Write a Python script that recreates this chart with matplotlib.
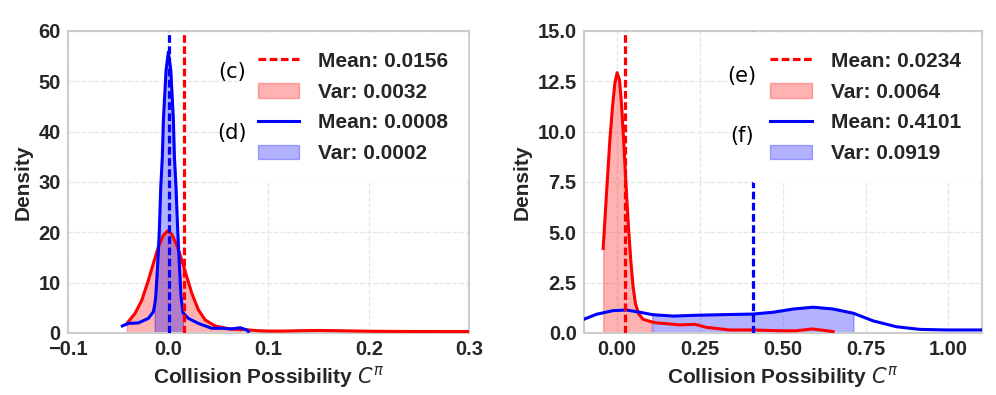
import numpy as np
import matplotlib.pyplot as plt

# --- panel (c)/(d): curves ---
cd_red_x = [-0.041, -0.0329, -0.0262, -0.0196, -0.0147, -0.0097, -0.0047, -0.0003,
            0.0037, 0.0086, 0.0136, 0.0186, 0.0236, 0.0302, 0.0369, 0.0468, 0.0601,
            0.0722, 0.080, 0.09, 0.1, 0.115, 0.13, 0.15, 0.17, 0.19, 0.21, 0.24,
            0.27, 0.3]
cd_red_y = [1.9, 3.9, 6.5, 10.5, 13.8, 17.1, 19.4, 20.3,
            19.6, 17.5, 14.5, 11.2, 7.9, 4.6, 2.6, 1.4, 0.86,
            0.68, 0.6, 0.45, 0.38, 0.38, 0.45, 0.5, 0.45, 0.38, 0.33, 0.3,
            0.28, 0.28]
cd_blue_x = [-0.0456, -0.0396, -0.0296, -0.0196, -0.0147, -0.0133, -0.0123, -0.0103,
             -0.0087, -0.0073, -0.0057, -0.0047, -0.002, 0.0003, 0.0027, 0.0053,
             0.0063, 0.0079, 0.0096, 0.0112, 0.0129, 0.0149, 0.0202, 0.0302, 0.0435,
             0.0535, 0.0635, 0.0717, 0.0784, 0.080]
cd_blue_y = [1.39, 1.9, 2.0, 2.9, 4.2, 5.6, 7.2, 13.8,
             20.4, 29.0, 35.0, 42.3, 52.2, 55.8, 52.2, 42.3,
             35.0, 29.0, 20.4, 13.8, 7.2, 4.0, 2.9, 1.9, 0.93,
             0.93, 0.8, 1.05, 0.6, 0.3]
cd_mean = [0.0156, 0.0008]
cd_var = [0.0032, 0.0002]

# --- panel (e)/(f) ---
ef_red_x = [-0.0412, -0.036, -0.028, -0.021, -0.013, -0.006, 0.001, 0.008, 0.014,
            0.021, 0.028, 0.035, 0.042, 0.049, 0.056, 0.066, 0.079, 0.0995, 0.1034,
            0.12, 0.15, 0.19, 0.235, 0.27, 0.34, 0.41, 0.49, 0.54, 0.59, 0.652]
ef_red_y = [4.2, 5.6, 7.76, 9.58, 11.23, 12.39, 12.92, 12.56, 11.4,
            9.41, 7.26, 5.28, 3.62, 2.3, 1.47, 0.95, 0.68, 0.58, 0.56,
            0.5, 0.46, 0.4, 0.43, 0.28, 0.15, 0.15, 0.11, 0.11, 0.2, 0.07]
ef_blue_x = [-0.0995, -0.061, -0.011, 0.029, 0.069, 0.107, 0.17, 0.24, 0.32, 0.41,
             0.471, 0.532, 0.592, 0.652, 0.7133, 0.773, 0.843, 0.913, 0.994, 1.1]
ef_blue_y = [0.68, 0.93, 1.11, 1.14, 1.03, 0.91, 0.84, 0.88, 0.91, 0.94,
             1.03, 1.19, 1.28, 1.19, 0.98, 0.6, 0.31, 0.18, 0.15, 0.15]
ef_mean = [0.0234, 0.4101]
ef_var = [0.0064, 0.0919]

plt.rcParams['font.family'] = 'Liberation Sans'
TXT = '#262626'


def panel(ax, red, blue, means, vars_, xlim, ylim, xticks, yticks, xfmt, yfmt, tags, tagpos):
    parts = []
    for (x, y), m, v, c in zip([red, blue], means, vars_, ['red', 'blue']):
        x = np.array(x)
        y = np.array(y)
        s = np.sqrt(v)
        ln, = ax.plot(x, y, color=c, lw=2.2, zorder=3)
        # shade mean +/- std under the curve
        mask = (x >= m - s - 2e-4) & (x <= m + s + 2e-4)
        fl = ax.fill_between(x, 0, y, where=mask, color=c, alpha=0.3, zorder=2)
        ml = ax.axvline(m, color=c, lw=2.3, ls='--', dashes=(2.4, 1.1), zorder=4)
        parts.append((ln, fl, ml))
    handles = [parts[0][2], parts[0][1], parts[1][0], parts[1][1]]
    labels = [f'Mean: {means[0]:.4f}', f'Var: {vars_[0]:.4f}',
              f'Mean: {means[1]:.4f}', f'Var: {vars_[1]:.4f}']
    leg = ax.legend(handles, labels, loc='upper right', prop={'size': 15, 'weight': 'bold'},
                    frameon=True, framealpha=1, facecolor='white', edgecolor='white',
                    borderpad=0.9, handlelength=2.0, handletextpad=0.9,
                    labelspacing=0.57, borderaxespad=0.1)
    for t in leg.get_texts():
        t.set_color(TXT)
    leg.set_zorder(5)
    for t, (tx, ty) in zip(tags, tagpos):
        ax.text(tx, ty, t, transform=ax.transAxes, ha='center', va='center',
                fontsize=15, family='DejaVu Sans', zorder=6)
    ax.set_xlim(*xlim)
    ax.set_ylim(*ylim)
    ax.set_xticks(xticks)
    ax.set_yticks(yticks)
    ax.set_xticklabels([xfmt.format(t).replace('-', '\u2212') for t in xticks],
                       fontweight='bold')
    ax.set_yticklabels([yfmt.format(t) for t in yticks], fontweight='bold')
    ax.tick_params(labelsize=14.5, length=0, colors=TXT, pad=5)
    ax.grid(True, ls='--', color='#e6e6e6', lw=0.9)
    ax.set_axisbelow(True)
    for sp in ax.spines.values():
        sp.set_color('#cccccc')
        sp.set_linewidth(1.5)
    ax.set_xlabel('Collision Possibility $C^{\\pi}$', fontsize=15, fontweight='bold',
                  color=TXT, labelpad=4)
    ax.set_ylabel('Density', fontsize=15, fontweight='bold', color=TXT, labelpad=4.5)


fig = plt.figure(figsize=(9.96, 3.95), dpi=100)
ax1 = fig.add_axes([0.068, 0.157, 0.403, 0.765])
ax2 = fig.add_axes([0.586, 0.157, 0.3996, 0.765])

panel(ax1, (cd_red_x, cd_red_y), (cd_blue_x, cd_blue_y), cd_mean, cd_var,
      (-0.1, 0.3), (0, 60), [-0.1, 0.0, 0.1, 0.2, 0.3], [0, 10, 20, 30, 40, 50, 60],
      '{:.1f}', '{:.0f}', ['(c)', '(d)'], [(0.409, 0.864), (0.409, 0.661)])
panel(ax2, (ef_red_x, ef_red_y), (ef_blue_x, ef_blue_y), ef_mean, ef_var,
      (-0.1, 1.1), (0, 15), [0.0, 0.25, 0.5, 0.75, 1.0], [0, 2.5, 5, 7.5, 10, 12.5, 15],
      '{:.2f}', '{:.1f}', ['(e)', '(f)'], [(0.397, 0.850), (0.397, 0.652)])

fig.savefig('out.png', dpi=100)
